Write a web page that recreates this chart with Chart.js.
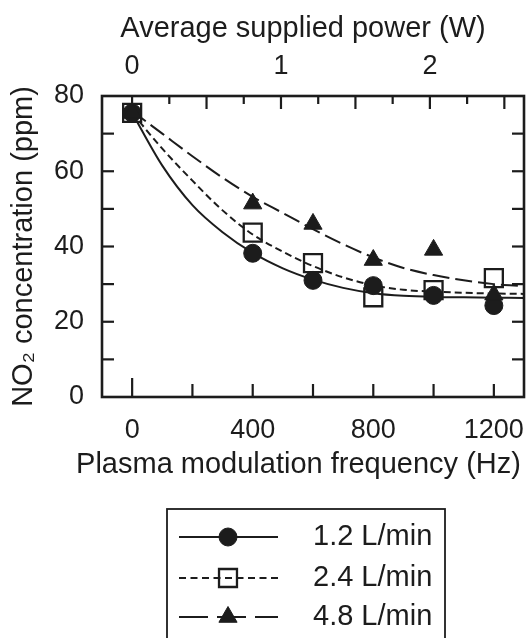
<!DOCTYPE html>
<html><head><meta charset="utf-8">
<script src="https://cdn.jsdelivr.net/npm/chart.js@4.4.1/dist/chart.umd.min.js"></script>
<style>html,body{margin:0;padding:0;background:#fff;}#wrap{width:527px;height:638px;position:relative;}</style>
</head><body><div id="wrap"><canvas id="c" width="527" height="638"></canvas></div>
<script>
// ---- data ----
const frequencies = [0, 400, 600, 800, 1000, 1200];
const no2_12 = [75.5, 38.2, 31.0, 29.6, 27.0, 24.3];
const no2_24 = [75.5, 43.7, 35.6, 26.5, 28.4, 31.6];
const no2_48 = [75.5, 51.4, 46.0, 36.4, 39.1, 27.2];
const fitFrequencies = [0, 100, 200, 300, 400, 500, 600, 700, 800, 900, 1000, 1100, 1200, 1300];
const fit12 = [75.5, 61.5, 51.0, 43.8, 38.3, 34.2, 31.2, 29.0, 27.6, 26.9, 26.6, 26.5, 26.4, 26.3];
const fit24 = [75.5, 66.0, 57.5, 49.6, 43.2, 38.6, 34.8, 31.8, 29.7, 28.5, 28.0, 27.7, 27.5, 27.4];
const fit48 = [76.0, 70.0, 64.0, 58.3, 53.2, 48.9, 44.6, 40.6, 37.1, 34.3, 32.4, 31.0, 30.0, 29.5];
const seriesLabels = ['1.2 L/min', '2.4 L/min', '4.8 L/min'];
const freqTicks = [0, 400, 800, 1200];
const freqMinorTicks = [0, 200, 400, 600, 800, 1000, 1200];
const powerTicks = [0, 1, 2];
const powerMinorTicks = [0, 0.25, 0.5, 0.75, 1, 1.25, 1.5, 1.75, 2, 2.25, 2.5];
const no2Ticks = [0, 20, 40, 60, 80];
const no2MinorTicks = [10, 20, 30, 40, 50, 60, 70];
const xTitle = 'Plasma modulation frequency (Hz)';
const x2Title = 'Average supplied power (W)';
const yTitle = 'NO\u2082 concentration (ppm)';

const ink = '#1c1c1c';
const FAMILY = '"Liberation Sans", Arial, Helvetica, sans-serif';
Chart.defaults.font.family = FAMILY;
Chart.defaults.color = ink;

const pts = (xs, ys) => xs.map((x, i) => ({x: x, y: ys[i]}));
const markerStyles = [
  {pointStyle: 'circle', radius: 9, fill: ink},
  {pointStyle: 'rect', radius: 12.7, fill: 'rgba(0,0,0,0)'},
  {pointStyle: 'triangle', radius: 10.5, fill: ink}
];
const dashes = [[], [7, 4], [17, 6]];
const legendDashes = [[], [7, 4.5], [29, 9]];

const datasets = [
  {label: seriesLabels[2], data: pts(frequencies, no2_48), showLine: false, pointStyle: 'triangle', pointRadius: 10.5, pointBackgroundColor: ink, pointBorderColor: ink, pointBorderWidth: 1},
  {label: seriesLabels[0], data: pts(frequencies, no2_12), showLine: false, pointStyle: 'circle', pointRadius: 9, pointBackgroundColor: ink, pointBorderColor: ink, pointBorderWidth: 1},
  {label: seriesLabels[1], data: pts(frequencies, no2_24), showLine: false, pointStyle: 'rect', pointRadius: 12.7, pointBackgroundColor: 'rgba(0,0,0,0)', pointBorderColor: ink, pointBorderWidth: 2.3},
  {label: seriesLabels[2] + ' fit', data: pts(fitFrequencies, fit48), pointRadius: 0, borderColor: ink, borderWidth: 2, borderDash: dashes[2], cubicInterpolationMode: 'monotone', fill: false},
  {label: seriesLabels[1] + ' fit', data: pts(fitFrequencies, fit24), pointRadius: 0, borderColor: ink, borderWidth: 2, borderDash: dashes[1], cubicInterpolationMode: 'monotone', fill: false},
  {label: seriesLabels[0] + ' fit', data: pts(fitFrequencies, fit12), pointRadius: 0, borderColor: ink, borderWidth: 2, borderDash: dashes[0], cubicInterpolationMode: 'monotone', fill: false}
];

function setTicks(arr) { return function (scale) { scale.ticks = arr.map(v => ({value: v})); }; }
const plain = v => String(v);

function line(ctx, x1, y1, x2, y2) { ctx.beginPath(); ctx.moveTo(x1, y1); ctx.lineTo(x2, y2); ctx.stroke(); }

function drawMarker(ctx, m, x, y) {
  ctx.save();
  ctx.fillStyle = m.fill; ctx.strokeStyle = ink;
  ctx.lineWidth = m.pointStyle === 'rect' ? 2.3 : 1;
  ctx.setLineDash([]);
  if (Chart.helpers && Chart.helpers.drawPoint) {
    Chart.helpers.drawPoint(ctx, {pointStyle: m.pointStyle, radius: m.radius, rotation: 0, borderWidth: ctx.lineWidth}, x, y);
  }
  ctx.restore();
}

const framePlugin = {
  id: 'frame',
  afterDraw(chart) {
    const {ctx, chartArea: a, scales} = chart;
    ctx.save();
    ctx.strokeStyle = ink;
    ctx.lineWidth = 2.6;
    ctx.strokeRect(a.left, a.top, a.right - a.left, a.bottom - a.top);
    ctx.lineWidth = 2.2;
    freqMinorTicks.forEach(v => {
      const px = scales.x.getPixelForValue(v);
      line(ctx, px, a.bottom, px, a.bottom - (v === 0 ? 19 : 13));
    });
    no2MinorTicks.forEach(v => {
      const py = scales.y.getPixelForValue(v);
      line(ctx, a.left, py, a.left + 12, py);
      line(ctx, a.right, py, a.right - 12, py);
    });
    powerMinorTicks.forEach((v, i) => {
      const px = scales.x2.getPixelForValue(v);
      if (px > a.right - 2) return;
      line(ctx, px, a.top, px, a.top + (i % 2 === 0 ? 13 : 8));
    });
    // horizontal axis titles
    ctx.fillStyle = ink;
    ctx.font = '29px ' + FAMILY;
    ctx.textAlign = 'center';
    ctx.textBaseline = 'alphabetic';
    ctx.fillText(x2Title, 303, 37);
    ctx.fillText(xTitle, 298.5, 473);
    // legend
    ctx.lineWidth = 1.8;
    ctx.strokeRect(167, 509, 278, 200);
    const rows = [537, 578, 617];
    [0, 1, 2].forEach((s, i) => {
      const y = rows[i];
      ctx.lineWidth = 2;
      ctx.setLineDash(legendDashes[s]);
      line(ctx, 179, y, 278, y);
      ctx.setLineDash([]);
      drawMarker(ctx, markerStyles[s], 228, y);
      ctx.fillStyle = ink;
      ctx.font = '29px ' + FAMILY;
      ctx.textAlign = 'left';
      ctx.textBaseline = 'middle';
      ctx.fillText(seriesLabels[s], 313, y);
    });
    ctx.restore();
  }
};

function fitH(h) { return function (s) { s.height = h; s.paddingLeft = 0; s.paddingRight = 0; }; }

new Chart(document.getElementById('c'), {
  type: 'line',
  data: {datasets: datasets},
  options: {
    responsive: false,
    animation: false,
    layout: {autoPadding: false, padding: {left: 0, right: 3, top: 0, bottom: 191}},
    plugins: {legend: {display: false}, tooltip: {enabled: false}},
    scales: {
      x: {
        type: 'linear', position: 'bottom', min: -100, max: 1300,
        grid: {display: false}, border: {display: false},
        afterBuildTicks: setTicks(freqTicks),
        afterFit: fitH(50),
        ticks: {font: {size: 27}, padding: 9, maxRotation: 0, autoSkip: false, color: ink, callback: plain}
      },
      x2: {
        type: 'linear', position: 'top', min: -0.202, max: 2.632,
        grid: {display: false}, border: {display: false},
        afterBuildTicks: setTicks(powerTicks),
        afterFit: fitH(96),
        ticks: {font: {size: 27}, padding: 5, maxRotation: 0, autoSkip: false, color: ink, callback: plain}
      },
      y: {
        type: 'linear', position: 'left', min: 0, max: 80,
        grid: {display: false}, border: {display: false},
        afterBuildTicks: setTicks(no2Ticks),
        afterFit(s) { s.width = 102; s.paddingTop = 0; s.paddingBottom = 0; },
        ticks: {font: {size: 27}, padding: 10, color: ink, callback: plain},
        title: {display: true, text: yTitle, font: {size: 29}, color: ink, padding: {top: 7, bottom: 0}}
      }
    }
  },
  plugins: [framePlugin]
});
</script>
</body></html>
